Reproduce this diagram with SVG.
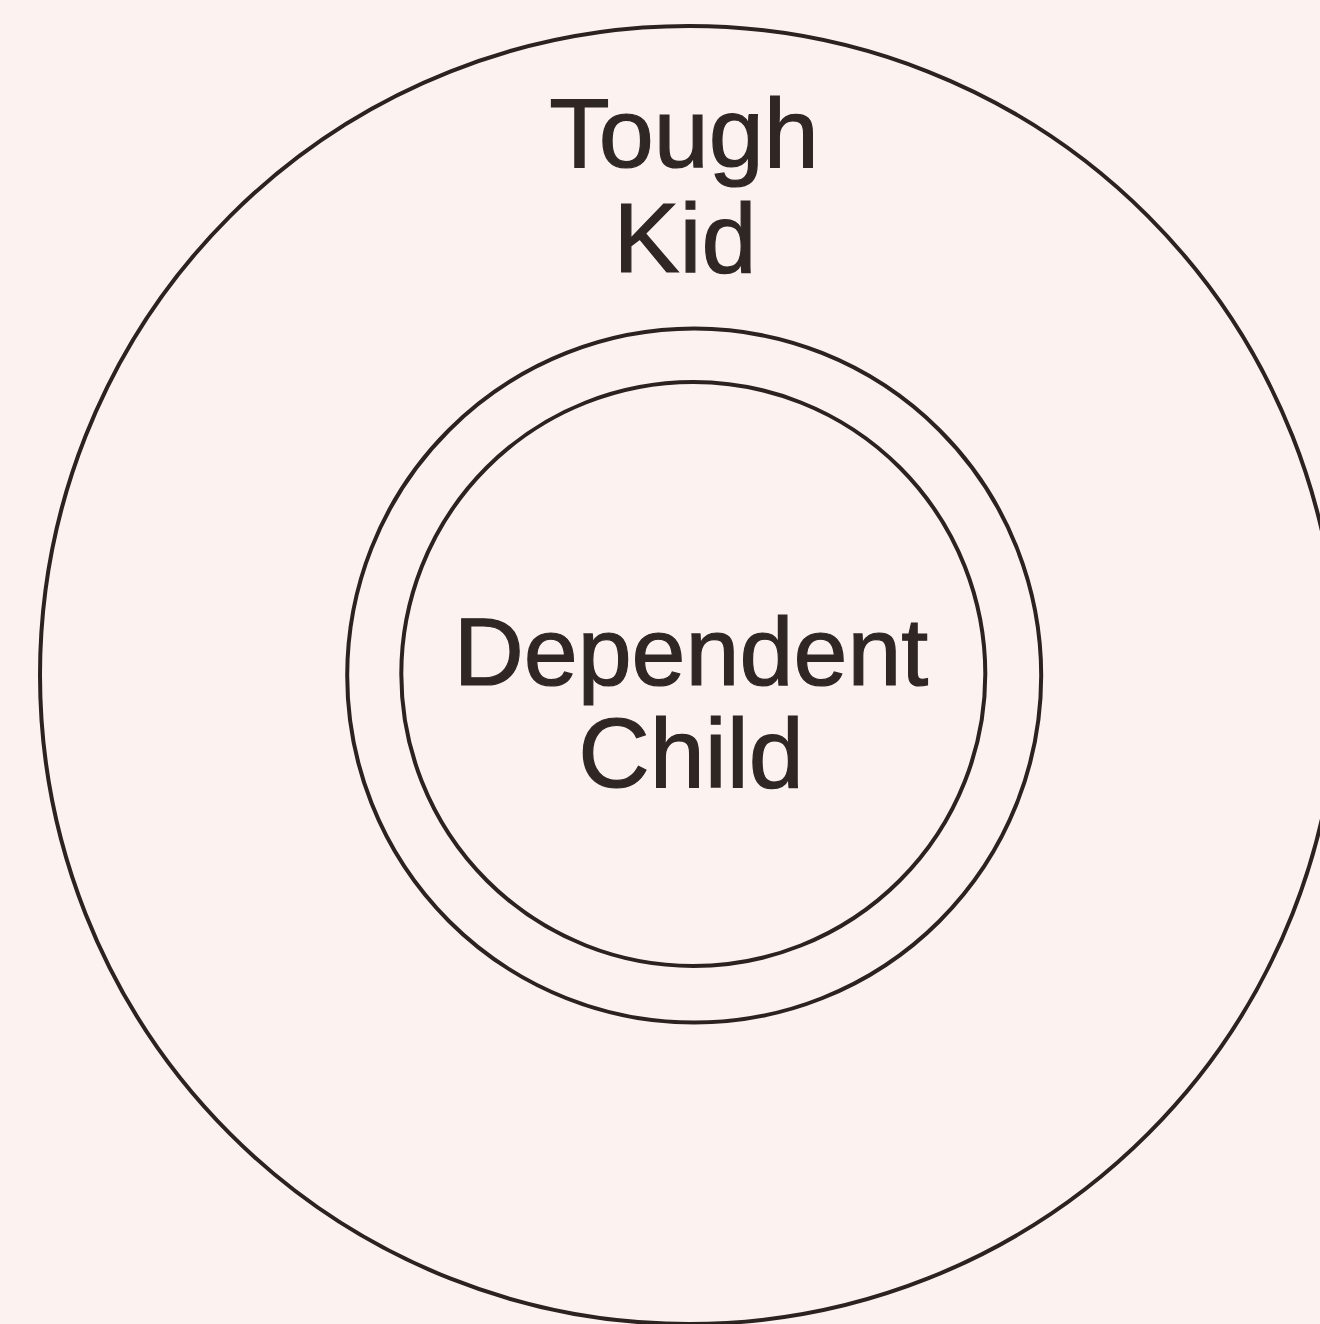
<svg xmlns="http://www.w3.org/2000/svg" width="1320" height="1324" viewBox="0 0 1320 1324">
<style>
.ring{fill:none;stroke:#2a2320;stroke-width:4}
.lbl{font-family:"Liberation Sans",Arial,sans-serif;font-size:99px;fill:#2e2724;stroke:#2e2724;stroke-width:1.2;text-anchor:middle}
.sm{font-size:97px}
</style>
<rect width="1320" height="1324" fill="#fcf3f0"/>
<g id="outer">
<circle class="ring" cx="689" cy="675" r="649"/>
<text class="lbl" x="684" y="167">Tough</text>
<text class="lbl" x="685" y="272">Kid</text>
</g>
<g id="middle">
<circle class="ring" cx="694.2" cy="675.6" r="347"/>
</g>
<g id="inner">
<circle class="ring" cx="693.3" cy="674" r="292"/>
<text class="lbl sm" x="691" y="685">Dependent</text>
<text class="lbl" x="691" y="787">Child</text>
</g>
<g id="connectors"/>
</svg>
